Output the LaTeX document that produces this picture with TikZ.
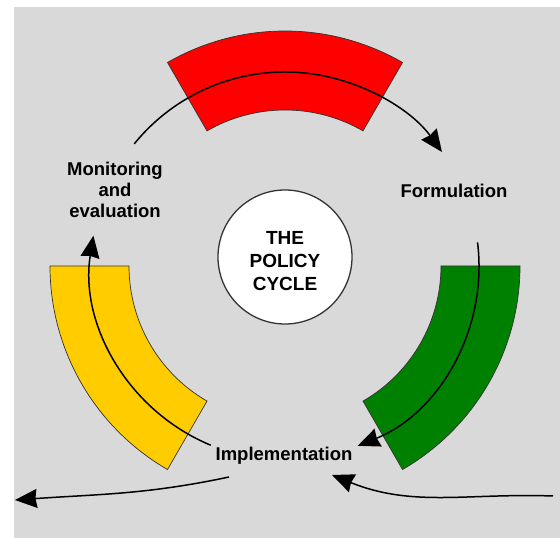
\documentclass[tikz,border=0pt]{standalone}
\usepackage{fontspec}
\setmainfont{Liberation Sans}
\usetikzlibrary{arrows.meta}

\definecolor{bggray}{HTML}{D9D9D9}
\definecolor{bandred}{HTML}{FF0000}
\definecolor{bandyellow}{HTML}{FFCC00}
\definecolor{bandgreen}{HTML}{008000}

\tikzset{
  band/.style={draw=black!80, line width=0.7pt},
  flow/.style={line width=1.5pt, -{Stealth[length=22pt, width=19pt, inset=1.5pt]}},
  stage/.style={font=\bfseries\fontsize{18.5}{21}\selectfont, align=center, inner sep=0pt},
}

\begin{document}
\begin{tikzpicture}[x=1pt, y=1pt]
        \useasboundingbox (0,0) rectangle (560,538);
        \fill[bggray] (14,0) rectangle (560,531);

        \coordinate (c) at (285,272);

        \foreach \a/\col in {60/bandred, 180/bandyellow, 300/bandgreen}
          \draw[band, fill=\col] ([shift={(\a:156)}]c) arc[start angle=\a, delta angle=60, radius=156]
            -- ([shift={(\a+60:235)}]c) arc[start angle=\a+60, delta angle=-60, radius=235] -- cycle;

        \node[circle, draw=black!80, line width=1.3pt, fill=white, minimum size=134pt, inner sep=0pt] (cycle) at (285,281) {};
        \node[stage, font=\bfseries\fontsize{19}{23}\selectfont] (cycletext) at (285,277) {THE\\POLICY\\CYCLE};

        \node[stage] (form) at (454,347) {Formulation};
        \node[stage, anchor=base] (impl) at (284,77) {Implementation};
        \node[stage] (mon) at (115,348.5) {Monitoring\\and\\evaluation};

        \coordinate (mstart) at ([shift={(141:194)}]c);
        \coordinate (fstart) at ([shift={(7:194)}]c);
        \coordinate (istart) at ([shift={(247.5:194)}]c);
        \draw[flow] (mstart) arc[start angle=141, end angle=36, radius=194];
        \draw[flow] (fstart) arc[start angle=7, end angle=-68, radius=194];
        \draw[flow] (istart) arc[start angle=247.5, end angle=171, radius=194];

        \coordinate (outstart) at (229,61);
        \coordinate (outend) at (15,38);
        \coordinate (instart) at (553,42);
        \coordinate (inend) at (332,63);
        \draw[flow] (outstart) to[out=192, in=4] (outend);
        \draw[flow] (instart) to[out=178, in=-22] (inend);
      \end{tikzpicture}
\end{document}
